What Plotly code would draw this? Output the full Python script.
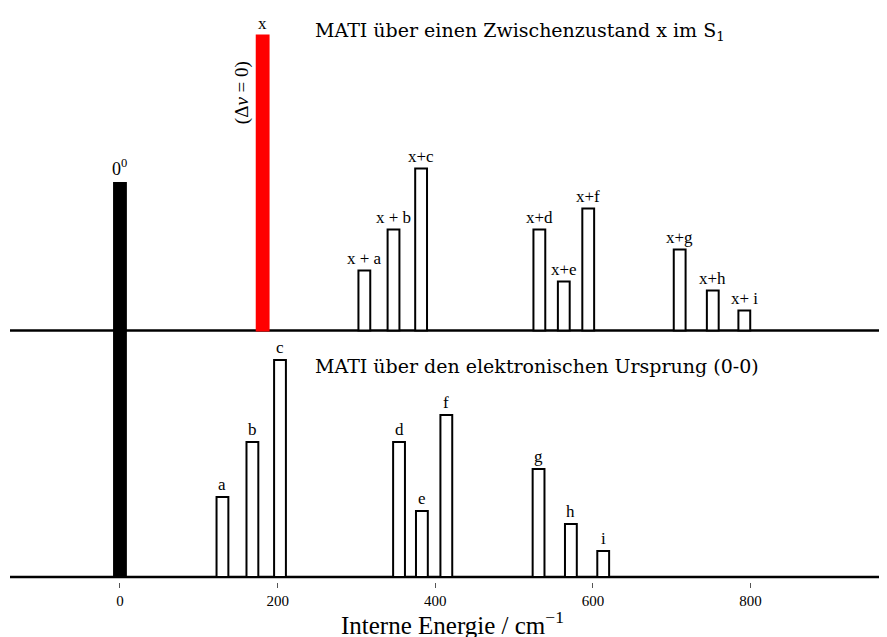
import plotly.graph_objects as go

# ---- data ----
lower_labels = ["a", "b", "c", "d", "e", "f", "g", "h", "i"]
lower_pos = [130, 168, 203, 354, 383, 414, 531, 572, 613]
lower_int = [80, 135, 217, 135, 66, 162, 108, 53, 26]

upper_labels = ["x + a", "x + b", "x+c", "x+d", "x+e", "x+f", "x+g", "x+h", "x+ i"]
upper_pos = [310, 347, 382, 532, 563, 594, 710, 752, 792]
upper_int = [60, 101, 162, 101, 49, 122, 81, 40, 20]

origin_pos = [0]
origin_int = [394]
x_pos = [181]
x_int = [295]

upper_base = 246.5
tick_vals = [0, 200, 400, 600, 800]
tick_text = ["0", "200", "400", "600", "800"]

SERIF = "Liberation Serif"
WIDE_SERIF = "DejaVu Serif"
BW = 15

fig = go.Figure()

fig.add_trace(go.Bar(x=lower_pos, y=lower_int, width=BW,
                     marker=dict(color="white", line=dict(color="black", width=2)),
                     showlegend=False, hoverinfo="skip"))
fig.add_trace(go.Bar(x=upper_pos, y=upper_int, base=upper_base, width=BW,
                     marker=dict(color="white", line=dict(color="black", width=2)),
                     showlegend=False, hoverinfo="skip"))
fig.add_trace(go.Bar(x=origin_pos, y=origin_int, width=BW,
                     marker=dict(color="black", line=dict(color="black", width=2)),
                     showlegend=False, hoverinfo="skip"))
fig.add_trace(go.Bar(x=x_pos, y=x_int, base=upper_base, width=BW,
                     marker=dict(color="red", line=dict(color="red", width=2)),
                     showlegend=False, hoverinfo="skip"))

ann = []
for lab, xp, yv in zip(lower_labels, lower_pos, lower_int):
    ann.append(dict(x=xp, y=yv, text=lab, showarrow=False, xanchor="center",
                    yanchor="bottom", yshift=1, font=dict(family=SERIF, size=17, color="black")))
for lab, xp, yv in zip(upper_labels, upper_pos, upper_int):
    ann.append(dict(x=xp, y=yv + upper_base, text=lab, showarrow=False, xanchor="center",
                    yanchor="bottom", yshift=1, font=dict(family=SERIF, size=17, color="black")))
ann.append(dict(x=origin_pos[0], y=origin_int[0], text="0<sup>0</sup>", showarrow=False,
                xanchor="center", yanchor="bottom", yshift=2,
                font=dict(family=SERIF, size=18, color="black")))
ann.append(dict(x=x_pos[0], y=x_int[0] + upper_base, text="x", showarrow=False,
                xanchor="center", yanchor="bottom", yshift=1,
                font=dict(family=SERIF, size=17, color="black")))
ann.append(dict(x=155, y=484, text="(Δ<i>ν</i> = 0)", showarrow=False, textangle=-90,
                xanchor="center", yanchor="middle",
                font=dict(family=SERIF, size=19, color="black")))
ann.append(dict(x=245, y=546, text="MATI über einen Zwischenzustand x im S<sub>1</sub>",
                showarrow=False, xanchor="left", yanchor="middle",
                font=dict(family=WIDE_SERIF, size=19, color="black")))
ann.append(dict(x=245, y=211, text="MATI über den elektronischen Ursprung (0-0)",
                showarrow=False, xanchor="left", yanchor="middle",
                font=dict(family=WIDE_SERIF, size=19, color="black")))
ann.append(dict(x=0.504, y=-0.071, xref="paper", yref="paper",
                text="Interne Energie / cm<sup>−1</sup>", showarrow=False,
                xanchor="center", yanchor="middle",
                font=dict(family=SERIF, size=25, color="black")))

shapes = [
    dict(type="line", xref="paper", x0=0, x1=1, yref="y", y0=0, y1=0,
         line=dict(color="black", width=2.5), layer="below"),
    dict(type="line", xref="paper", x0=0, x1=1, yref="y", y0=upper_base, y1=upper_base,
         line=dict(color="black", width=2.5), layer="below"),
]

fig.update_layout(
    width=879, height=629,
    margin=dict(l=2, r=0, t=0, b=55),
    plot_bgcolor="white", paper_bgcolor="white",
    barmode="overlay",
    annotations=ann, shapes=shapes,
    xaxis=dict(range=[-139.5, 973], showgrid=False, zeroline=False, showline=False,
               ticks="outside", ticklen=5, tickwidth=1, tickcolor="#555",
               tickvals=tick_vals, ticktext=tick_text,
               tickfont=dict(family=SERIF, size=15, color="black")),
    yaxis=dict(range=[-5, 569], showgrid=False, zeroline=False, showline=False,
               showticklabels=False, ticks=""),
)

fig.write_html("out.html")
